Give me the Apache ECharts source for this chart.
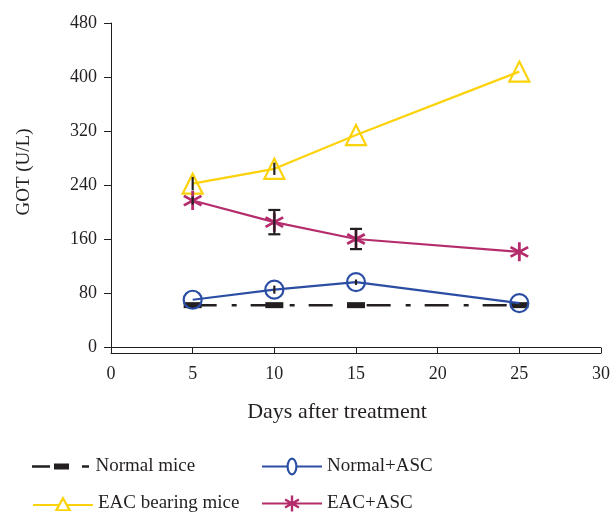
<!DOCTYPE html>
<html><head><meta charset="utf-8">
<script src="https://cdn.jsdelivr.net/npm/echarts@6/dist/echarts.min.js"></script>
<style>html,body{margin:0;padding:0;background:#fff}#c{width:613px;height:512px}</style>
</head><body><div id="c"></div>
<script>
const days = [5, 10, 15, 25];
const normalMice = [62, 62, 62, 62];
const normalAsc = [70, 85, 96, 65];
const normalAscErr = [0, 6, 4, 0];
const eacMice = [242, 264, 314, 408];
const eacMiceErr = [10, 9, 0, 0];
const eacAsc = [217, 185, 160, 141];
const eacAscErr = [6, 18, 15, 0];
const seriesNames = ['Normal mice', 'Normal+ASC', 'EAC bearing mice', 'EAC+ASC'];

const FONT = 'Liberation Serif';
const TXT = '#231f20';
const C_BLACK = '#231f20', C_BLUE = '#2b4ea4', C_YEL = '#fcd20a', C_MAG = '#b52c6d';

const asterisk = 'path://M8.6,0L11.4,0L11.4,20L8.6,20Z M0.64,6.21L2.04,3.79L19.36,13.79L17.96,16.21Z M2.04,16.21L0.64,13.79L17.96,3.79L19.36,6.21Z';

// legend icons (line + marker)
const iconBlack = 'path://M0,1.8h18v2.4h-18Z M22,0h15v6h-15Z M50,1.8h7v2.4h-7Z';
const iconBlue = 'path://M0,8h24.6v2h-24.6Z M35.4,8h24.6v2h-24.6Z M35.5,9A5.5,9 0 1 1 24.5,9A5.5,9 0 1 1 35.5,9Z M33.3,9A3.3,6.8 0 1 0 26.7,9A3.3,6.8 0 1 0 33.3,9Z';
const iconYel = 'path://M0,8h25.5v2h-25.5Z M34.5,8h25.5v2h-25.5Z M30,0L38.5,15L21.5,15Z M30,4.4L25.2,13.2L34.8,13.2Z';
const iconMag = 'path://M0,7h60v2h-60Z M28.8,0h2.4v16h-2.4Z M22.47,5.04L23.67,2.96L37.53,10.96L36.33,13.04Z M23.67,13.04L22.47,10.96L36.33,2.96L37.53,5.04Z';

function pairs(vals) { return days.map((d, i) => [d, vals[i]]); }
function errs(vals, e) { return days.map((d, i) => [d, vals[i], e[i]]); }

const chart = echarts.init(document.getElementById('c'));
function leg(left, top, name, icon, color, h) {
  return {
    left: left, top: top, padding: 0, itemWidth: 60, itemHeight: h, itemGap: 5,
    symbolKeepAspect: true,
    textStyle: { fontFamily: FONT, fontSize: 19, color: TXT },
    data: [{ name: name, icon: icon, itemStyle: { color: color, borderWidth: 0 } }]
  };
}
chart.setOption({
  animation: false,
  textStyle: { fontFamily: FONT },
  grid: { left: 111, right: 10, top: 23, bottom: 165, containLabel: false },
  legend: [
    leg(32, 457, seriesNames[0], iconBlack, C_BLACK, 6),
    leg(262, 457, seriesNames[1], iconBlue, C_BLUE, 18),
    leg(33, 494, seriesNames[2], iconYel, C_YEL, 15),
    leg(262, 494, seriesNames[3], iconMag, C_MAG, 16)
  ],
  xAxis: [
    { type: 'value', min: 0, max: 30, interval: 5, position: 'bottom',
      axisLine: { show: true, lineStyle: { color: TXT, width: 1 } },
      axisTick: { show: false }, axisLabel: { show: false }, splitLine: { show: false } },
    { type: 'value', min: 0, max: 30, interval: 5, position: 'bottom', offset: 6,
      name: 'Days after treatment', nameLocation: 'middle', nameGap: 48,
      nameTextStyle: { fontFamily: FONT, fontSize: 22, color: TXT, padding: [0, 38, 0, 0] },
      axisLine: { show: true, onZero: false, lineStyle: { color: TXT, width: 1 } },
      axisTick: { show: true, inside: true, length: 5, lineStyle: { color: TXT } },
      axisLabel: { fontFamily: FONT, fontSize: 18, color: TXT, margin: 12 },
      splitLine: { show: false } }
  ],
  yAxis: {
    type: 'value', min: 0, max: 480, interval: 80,
    name: 'GOT (U/L)', nameLocation: 'middle', nameGap: 77,
    nameTextStyle: { fontFamily: FONT, fontSize: 19, color: TXT, padding: [0, 0, 0, 26] },
    axisLine: { show: true, lineStyle: { color: TXT, width: 1 } },
    axisTick: { show: true, length: 7, lineStyle: { color: TXT } },
    axisLabel: { fontFamily: FONT, fontSize: 18, color: TXT, margin: 14 },
    splitLine: { show: false }
  },
  series: [
    { name: seriesNames[0], type: 'line', xAxisIndex: 1, data: pairs(normalMice),
      symbol: 'rect', symbolSize: [18, 6],
      itemStyle: { color: C_BLACK },
      lineStyle: { color: C_BLACK, width: 2.5, type: [24, 15, 5, 14] }, z: 2 },
    { name: seriesNames[1], type: 'line', xAxisIndex: 1, data: pairs(normalAsc),
      symbol: 'circle', symbolSize: 18,
      itemStyle: { color: 'rgba(255,255,255,0)', borderColor: C_BLUE, borderWidth: 2.2 },
      lineStyle: { color: C_BLUE, width: 2.2 }, z: 3 },
    { name: seriesNames[2], type: 'line', xAxisIndex: 1, data: pairs(eacMice),
      symbol: 'triangle', symbolSize: 20,
      itemStyle: { color: 'rgba(255,255,255,0)', borderColor: C_YEL, borderWidth: 2.2 },
      lineStyle: { color: C_YEL, width: 2.2 }, z: 3 },
    { name: seriesNames[3], type: 'line', xAxisIndex: 1, data: pairs(eacAsc),
      symbol: asterisk, symbolSize: 19,
      itemStyle: { color: C_MAG },
      lineStyle: { color: C_MAG, width: 2.2 }, z: 3 },
    { type: 'custom', xAxisIndex: 1, z: 5, silent: true,
      encode: { x: 0, y: 1 },
      data: errs(normalAsc, normalAscErr).concat(errs(eacMice, eacMiceErr), errs(eacAsc, eacAscErr)),
      renderItem: function (params, api) {
        const x = api.value(0), y = api.value(1), e = api.value(2);
        if (!e) return null;
        const t = api.coord([x, y + e]), b = api.coord([x, y - e]);
        const st = { stroke: C_BLACK, lineWidth: 2.2 };
        const ch = [{ type: 'line', shape: { x1: t[0], y1: t[1], x2: b[0], y2: b[1] }, style: st }];
        if (e >= 12) {
          ch.push({ type: 'line', shape: { x1: t[0] - 6, y1: t[1], x2: t[0] + 6, y2: t[1] }, style: st });
          ch.push({ type: 'line', shape: { x1: b[0] - 6, y1: b[1], x2: b[0] + 6, y2: b[1] }, style: st });
        }
        return { type: 'group', children: ch };
      } }
  ]
});
</script></body></html>
